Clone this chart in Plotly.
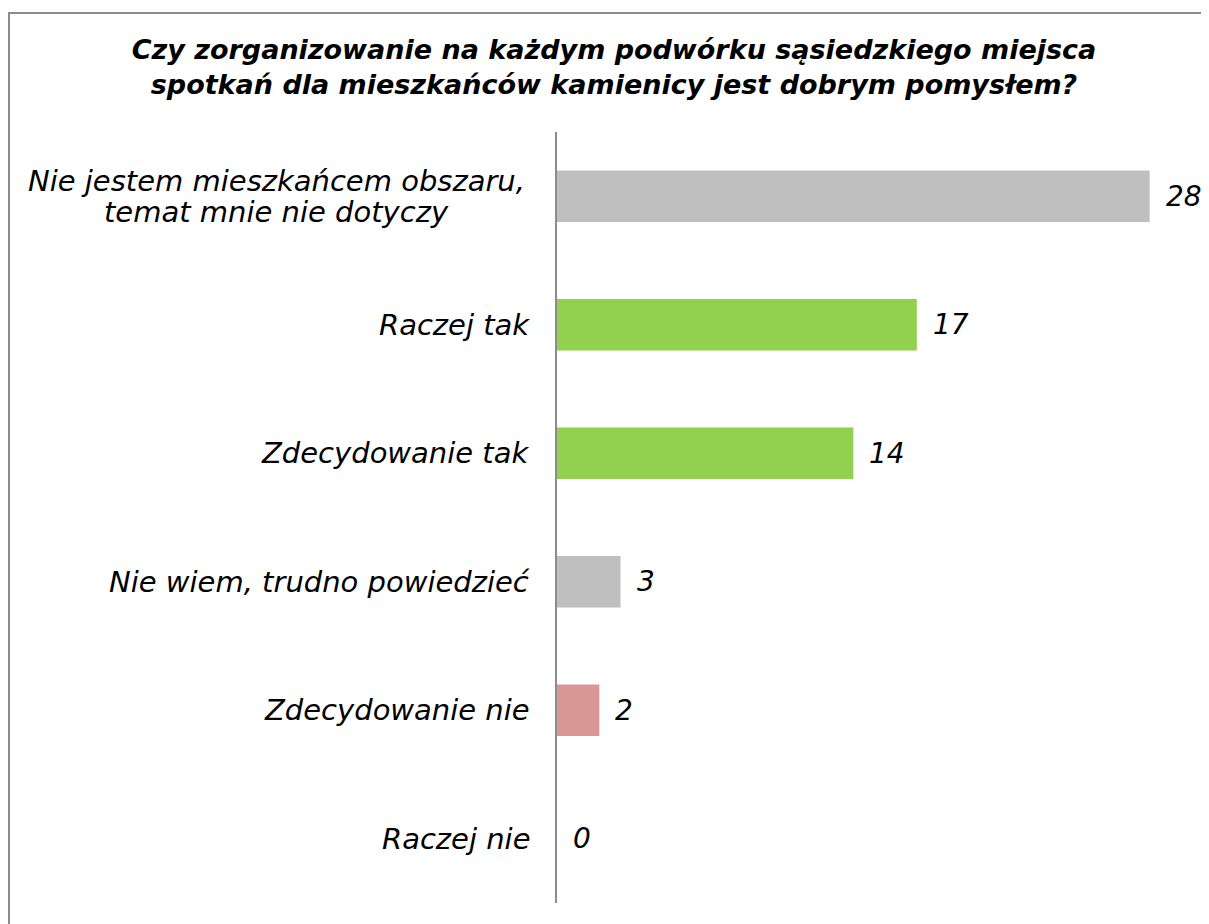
import plotly.graph_objects as go

categories = [
    "Nie jestem mieszkańcem obszaru,<br>temat mnie nie dotyczy",
    "Raczej tak",
    "Zdecydowanie tak",
    "Nie wiem, trudno powiedzieć",
    "Zdecydowanie nie",
    "Raczej nie",
]
values = [28, 17, 14, 3, 2, 0]
colors = ["#BFBFBF", "#92D050", "#92D050", "#BFBFBF", "#D99694", "#D99694"]
title_text = ("<b><i>Czy zorganizowanie na każdym podwórku sąsiedzkiego miejsca<br>"
              "spotkań dla mieszkańców kamienicy jest dobrym pomysłem?</i></b>")

W, H = 1209, 924
L, R, T, B = 549, 25, 124, 29
pw, ph = W - L - R, H - T - B
FONT = "DejaVu Sans"

fig = go.Figure(go.Bar(
    x=values, y=categories, orientation="h",
    marker=dict(color=colors, line=dict(width=0)),
    hoverinfo="skip",
))

annotations = []
for c, v in zip(categories, values):
    lines = c.split("<br>")
    if len(lines) == 1:
        annotations.append(dict(
            x=0, xref="paper", y=c, yref="y", xanchor="right", yanchor="middle",
            xshift=-25, text="<i>" + c + "</i>", showarrow=False,
            font=dict(family=FONT, size=29, color="#000000"),
        ))
    else:
        n = len(lines)
        for i, ln in enumerate(lines):
            annotations.append(dict(
                x=(268 - L) / pw, xref="paper", y=c, yref="y", xanchor="center", yanchor="middle",
                yshift=((n - 1) / 2 - i) * 31, text="<i>" + ln + "</i>", showarrow=False,
                font=dict(family=FONT, size=29, color="#000000"),
            ))
    annotations.append(dict(
        x=v, xref="x", y=c, yref="y", xanchor="left", yanchor="middle",
        xshift=14, text="<i>" + str(v) + "</i>", showarrow=False,
        font=dict(family=FONT, size=28, color="#000000"),
    ))

fig.update_layout(
    width=W, height=H,
    margin=dict(l=L, r=R, t=T, b=B, pad=0),
    paper_bgcolor="white", plot_bgcolor="white",
    bargap=0.6,
    showlegend=False,
    title=dict(text=title_text, x=606 / W, xanchor="center", y=1 - 51 / H, yanchor="middle",
               font=dict(family=FONT, size=27, color="#000000")),
    xaxis=dict(range=[0, 30], visible=False, fixedrange=True),
    yaxis=dict(categoryorder="array", categoryarray=categories[::-1], showticklabels=False,
               showline=True, linecolor="#8C8C8C", linewidth=2, ticks="", showgrid=False,
               zeroline=False, fixedrange=True),
    annotations=annotations,
    shapes=[dict(type="rect", xref="paper", yref="paper",
                 x0=(1 - L) / pw, x1=(W + 20 - L) / pw,
                 y0=(H - B - (H + 20)) / ph, y1=(H - B - 5) / ph,
                 line=dict(color="#8C8C8C", width=2), fillcolor="rgba(0,0,0,0)", layer="below")],
)

fig.write_html("out.html")
